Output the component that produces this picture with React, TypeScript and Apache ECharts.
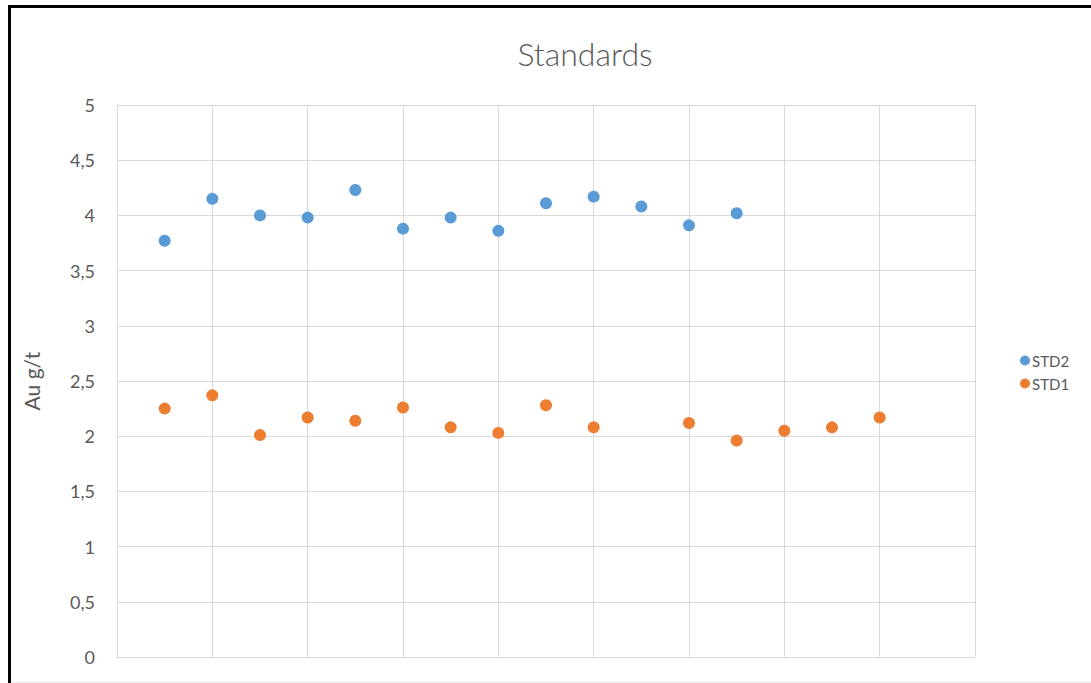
import React, { useEffect, useRef } from "react";
import * as echarts from "echarts";

const chartTitle = "Standards";
const yAxisName = "Au g/t";
const std2X = [1, 2, 3, 4, 5, 6, 7, 8, 9, 10, 11, 12, 13];
const std2Y = [3.77, 4.15, 4.0, 3.98, 4.23, 3.88, 3.98, 3.86, 4.11, 4.17, 4.08, 3.91, 4.02];
const std1X = [1, 2, 3, 4, 5, 6, 7, 8, 9, 10, 12, 13, 14, 15, 16];
const std1Y = [2.25, 2.37, 2.01, 2.17, 2.14, 2.26, 2.08, 2.03, 2.28, 2.08, 2.12, 1.96, 2.05, 2.08, 2.17];
const seriesNames = ["STD2", "STD1"];
const seriesColors = ["#5B9BD5", "#ED7D31"];

export default function App() {
  const ref = useRef<HTMLDivElement>(null);
  useEffect(() => {
    if (!ref.current) return;
    const chart = echarts.init(ref.current, null, { renderer: "svg" });
    const font = "Lato, 'Open Sans', sans-serif";
    const gridColor = "#D9D9D9";
    const textColor = "#595959";
    chart.setOption({
      animation: false,
      backgroundColor: "#ffffff",
      textStyle: { fontFamily: font },
      title: {
        text: chartTitle,
        left: 580,
        textAlign: "center",
        top: 32,
        textStyle: { fontFamily: font, fontSize: 32, fontWeight: 300, color: textColor },
      },
      legend: {
        data: seriesNames,
        orient: "vertical",
        left: 1015,
        top: 348,
        itemGap: 8,
        itemWidth: 10,
        itemHeight: 10,
        icon: "circle",
        textStyle: { fontFamily: font, fontSize: 15, color: textColor, padding: [0, 0, 0, -3] },
      },
      grid: { left: 117, right: 116, top: 105, bottom: 26 },
      xAxis: {
        type: "value",
        min: 0,
        max: 18,
        interval: 2,
        axisLabel: { show: false },
        axisTick: { show: false },
        axisLine: { show: true, lineStyle: { color: gridColor } },
        splitLine: { show: true, lineStyle: { color: gridColor, width: 1 } },
      },
      yAxis: {
        type: "value",
        min: 0,
        max: 5,
        interval: 0.5,
        name: yAxisName,
        nameLocation: "middle",
        nameGap: 75,
        nameTextStyle: { fontFamily: font, fontSize: 21, color: textColor },
        axisLabel: {
          fontFamily: font,
          fontSize: 18,
          color: textColor,
          margin: 22,
          formatter: (v: number) => String(v).replace(".", ","),
        },
        axisTick: { show: false },
        axisLine: { show: true, lineStyle: { color: gridColor } },
        splitLine: { show: true, lineStyle: { color: gridColor, width: 1 } },
      },
      series: [
        {
          name: seriesNames[0],
          type: "scatter",
          symbolSize: 12,
          itemStyle: { color: seriesColors[0], opacity: 1 },
          data: std2X.map((x, i) => [x, std2Y[i]]),
        },
        {
          name: seriesNames[1],
          type: "scatter",
          symbolSize: 12,
          itemStyle: { color: seriesColors[1], opacity: 1 },
          data: std1X.map((x, i) => [x, std1Y[i]]),
        },
      ],
      graphic: [
        {
          type: "rect",
          shape: { x: 9.5, y: 6.5, width: 1200, height: 800 },
          style: { fill: "none", stroke: "#000000", lineWidth: 3 },
          silent: true,
        },
        {
          type: "line",
          shape: { x1: 11, y1: 682, x2: 1091, y2: 682 },
          style: { stroke: "#E6E6E6", lineWidth: 1 },
          silent: true,
        },
      ],
    });
    return () => chart.dispose();
  }, []);
  return (
    <div
      ref={ref}
      style={{ position: "fixed", left: 0, top: 0, width: 1091, height: 683 }}
    />
  );
}
